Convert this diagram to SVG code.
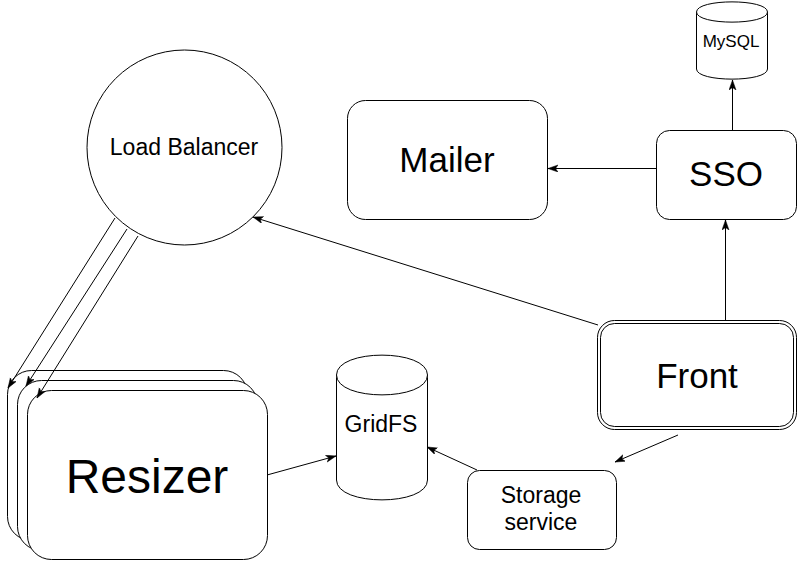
<svg xmlns="http://www.w3.org/2000/svg" width="798" height="561" viewBox="0 0 798 561">
<defs>
<style>
.n{fill:#fff;stroke:#000;stroke-width:1}
.t{font-family:"Liberation Sans",Arial,sans-serif;fill:#000;text-anchor:middle}
.c{fill:none;stroke:#000;stroke-width:1;marker-end:url(#ah)}
</style>
<marker id="ah" markerUnits="userSpaceOnUse" markerWidth="12" markerHeight="10" refX="10" refY="3.5" orient="auto">
<path d="M0,0 L10,3.5 L0,7 L2.5,3.5 Z" fill="#000" stroke="#000" stroke-width="0.5"/>
</marker>
</defs>
<rect width="798" height="561" fill="#fff"/>
<g id="lb">
<circle class="n" cx="184.5" cy="147.5" r="97.5"/>
<text class="t" x="184" y="155" font-size="23">Load Balancer</text>
</g>
<g id="mailer">
<rect class="n" x="347.5" y="100.5" width="200" height="119" rx="18"/>
<text class="t" x="447" y="172" font-size="35">Mailer</text>
</g>
<g id="sso">
<rect class="n" x="656.5" y="130.5" width="140" height="89" rx="13"/>
<text class="t" x="726" y="186" font-size="35">SSO</text>
</g>
<g id="mysql">
<path class="n" d="M696.5,12 C696.5,-1.5 767.5,-1.5 767.5,12 L767.5,69 C767.5,82.5 696.5,82.5 696.5,69 Z"/>
<path class="n" fill="none" d="M696.5,12 C696.5,25.5 767.5,25.5 767.5,12"/>
<text class="t" x="731" y="47" font-size="17">MySQL</text>
</g>
<g id="front">
<rect class="n" x="597.5" y="320.5" width="199" height="109" rx="17"/>
<rect class="n" x="600.5" y="323.5" width="193" height="103" rx="14"/>
<text class="t" x="697" y="388" font-size="35">Front</text>
</g>
<g id="storage">
<rect class="n" x="467.5" y="470.5" width="149" height="79" rx="12"/>
<text class="t" x="541" y="503" font-size="23">Storage</text>
<text class="t" x="541" y="530" font-size="23">service</text>
</g>
<g id="gridfs">
<path class="n" d="M336.5,375 C336.5,348.5 427.5,348.5 427.5,375 L427.5,480 C427.5,506.5 336.5,506.5 336.5,480 Z"/>
<path class="n" fill="none" d="M336.5,375 C336.5,401.5 427.5,401.5 427.5,375"/>
<text class="t" x="381" y="432" font-size="23">GridFS</text>
</g>
<g id="resizer">
<rect class="n" x="7.5" y="370.5" width="240" height="170" rx="24"/>
<rect class="n" x="17.5" y="380.5" width="240" height="170" rx="24"/>
<rect class="n" x="27.5" y="390.5" width="240" height="169" rx="24"/>
<text class="t" x="147" y="493" font-size="48">Resizer</text>
</g>
<g id="connectors">
<line class="c" x1="115" y1="218" x2="8" y2="388"/>
<line class="c" x1="127" y1="229" x2="26" y2="386"/>
<line class="c" x1="138" y1="236" x2="37" y2="398"/>
<line class="c" x1="598" y1="325" x2="253" y2="217"/>
<line class="c" x1="725.5" y1="320" x2="725.5" y2="220"/>
<line class="c" x1="732.5" y1="130" x2="732.5" y2="80"/>
<line class="c" x1="656" y1="168.5" x2="548" y2="168.5"/>
<line class="c" x1="678" y1="435" x2="615" y2="462"/>
<line class="c" x1="477" y1="470" x2="427" y2="447"/>
<line class="c" x1="267" y1="475" x2="336" y2="456"/>
</g>
</svg>
